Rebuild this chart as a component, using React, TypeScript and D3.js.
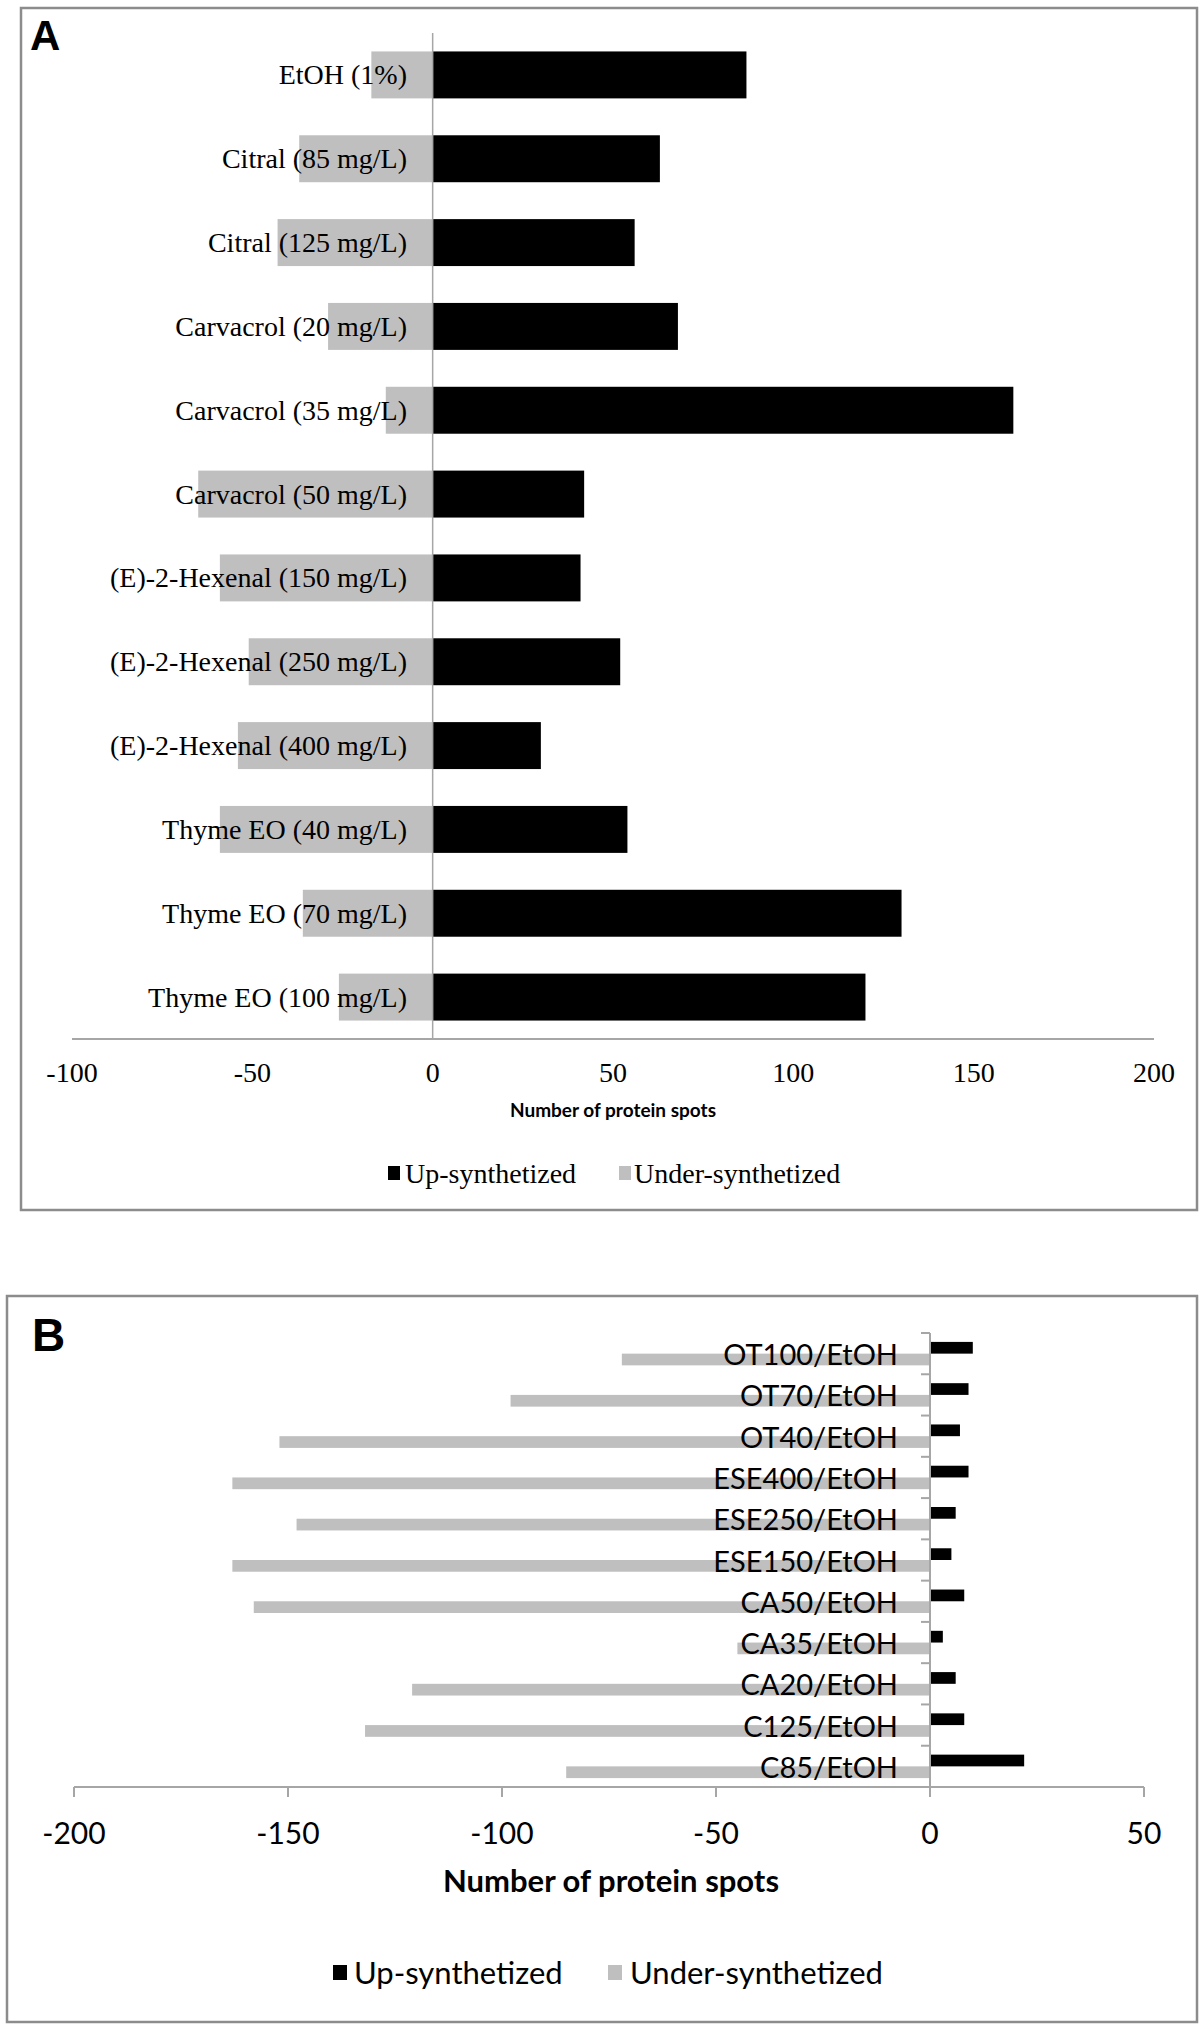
import React from "react";
import * as d3 from "d3";

const catsA = [
  "EtOH (1%)",
  "Citral (85 mg/L)",
  "Citral (125 mg/L)",
  "Carvacrol (20 mg/L)",
  "Carvacrol (35 mg/L)",
  "Carvacrol (50 mg/L)",
  "(E)-2-Hexenal (150 mg/L)",
  "(E)-2-Hexenal (250 mg/L)",
  "(E)-2-Hexenal (400 mg/L)",
  "Thyme EO (40 mg/L)",
  "Thyme EO (70 mg/L)",
  "Thyme EO (100 mg/L)",
];
const upA = [87, 63, 56, 68, 161, 42, 41, 52, 30, 54, 130, 120];
const underA = [-17, -37, -43, -29, -13, -65, -59, -51, -54, -59, -36, -26];
const ticksA = [-100, -50, 0, 50, 100, 150, 200];

const catsB = [
  "OT100/EtOH",
  "OT70/EtOH",
  "OT40/EtOH",
  "ESE400/EtOH",
  "ESE250/EtOH",
  "ESE150/EtOH",
  "CA50/EtOH",
  "CA35/EtOH",
  "CA20/EtOH",
  "C125/EtOH",
  "C85/EtOH",
];
const upB = [10, 9, 7, 9, 6, 5, 8, 3, 6, 8, 22];
const underB = [-72, -98, -152, -163, -148, -163, -158, -45, -121, -132, -85];
const ticksB = [-200, -150, -100, -50, 0, 50];

const seriesNames = ["Up-synthetized", "Under-synthetized"];
const BLACK = "#000000";
const GRAY = "#bfbfbf";
const AXIS = "#a6a6a6";

function PanelA() {
  const x = d3.scaleLinear().domain([-100, 200]).range([72, 1154]);
  const y = d3.scaleBand<string>().domain(catsA).range([33, 1039]).paddingInner(0.44).paddingOuter(0.22);
  const serif = "'Liberation Serif', 'Times New Roman', serif";
  return (
    <g>
      <rect x={21} y={8} width={1176} height={1202} fill="#fff" stroke="#8c8c8c" strokeWidth={2.5} />
      <text x={30} y={50} fontFamily="'Liberation Sans', Arial, sans-serif" fontWeight="bold" fontSize={42}>A</text>
      {catsA.map((c, i) => (
        <g key={c}>
          <rect x={x(underA[i])} y={y(c)} width={x(0) - x(underA[i])} height={y.bandwidth()} fill={GRAY} />
          <rect x={x(0)} y={y(c)} width={x(upA[i]) - x(0)} height={y.bandwidth()} fill={BLACK} />
        </g>
      ))}
      <line x1={x(0)} x2={x(0)} y1={33} y2={1039} stroke={AXIS} strokeWidth={1.5} />
      <line x1={x(-100)} x2={x(200)} y1={1039} y2={1039} stroke={AXIS} strokeWidth={2} />
      {catsA.map((c) => (
        <text key={c} x={407} y={y(c)! + y.bandwidth() / 2} textAnchor="end" dominantBaseline="central"
          fontFamily={serif} fontSize={28} fill="#000">{c}</text>
      ))}
      {ticksA.map((t) => (
        <text key={t} x={x(t)} y={1072} textAnchor="middle" dominantBaseline="central" fontFamily={serif} fontSize={28}>{t}</text>
      ))}
      <text x={613} y={1109} textAnchor="middle" dominantBaseline="central" fontFamily="Lato, sans-serif" fontWeight="bold" fontSize={19}>Number of protein spots</text>
      <rect x={388} y={1166} width={12} height={14} fill={BLACK} />
      <text x={405} y={1173} dominantBaseline="central" fontFamily={serif} fontSize={28}>{seriesNames[0]}</text>
      <rect x={619} y={1166} width={12} height={14} fill={GRAY} />
      <text x={634} y={1173} dominantBaseline="central" fontFamily={serif} fontSize={28}>{seriesNames[1]}</text>
    </g>
  );
}

function PanelB() {
  const x = d3.scaleLinear().domain([-200, 50]).range([74, 1144]);
  const y = d3.scaleBand<string>().domain(catsB).range([1333, 1787]);
  const inner = d3.scaleBand<string>().domain(["up", "under"]).range([0, y.bandwidth()]).paddingOuter(0.76).paddingInner(0);
  const sans = "Lato, 'Open Sans', sans-serif";
  const axisY = 1787;
  const boundaries = d3.range(catsB.length).map((i) => y(catsB[i])!);
  return (
    <g>
      <rect x={7} y={1296} width={1190} height={726} fill="#fff" stroke="#8c8c8c" strokeWidth={2.5} />
      <text x={32} y={1351} fontFamily="'Liberation Sans', Arial, sans-serif" fontWeight="bold" fontSize={46}>B</text>
      {catsB.map((c, i) => (
        <g key={c}>
          <rect x={x(0)} y={y(c)! + inner("up")!} width={x(upB[i]) - x(0)} height={inner.bandwidth()} fill={BLACK} />
          <rect x={x(underB[i])} y={y(c)! + inner("under")!} width={x(0) - x(underB[i])} height={inner.bandwidth()} fill={GRAY} />
        </g>
      ))}
      <line x1={x(0)} x2={x(0)} y1={1333} y2={axisY + 10} stroke={AXIS} strokeWidth={2} />
      {boundaries.map((b, i) => (
        <line key={i} x1={x(0) - 9} x2={x(0)} y1={b} y2={b} stroke={AXIS} strokeWidth={2} />
      ))}
      <line x1={x(-200)} x2={x(50)} y1={axisY} y2={axisY} stroke={AXIS} strokeWidth={2} />
      {ticksB.map((t) => (
        <line key={t} x1={x(t)} x2={x(t)} y1={axisY} y2={axisY + 10} stroke={AXIS} strokeWidth={2} />
      ))}
      {catsB.map((c) => (
        <text key={c} x={898} y={y(c)! + y.bandwidth() / 2} textAnchor="end" dominantBaseline="central"
          fontFamily={sans} fontSize={29} fill="#000">{c}</text>
      ))}
      {ticksB.map((t) => (
        <text key={t} x={x(t)} y={1832} textAnchor="middle" dominantBaseline="central" fontFamily={sans} fontSize={30}>{t}</text>
      ))}
      <text x={611} y={1880} textAnchor="middle" dominantBaseline="central" fontFamily={sans} fontWeight="bold" fontSize={31}>Number of protein spots</text>
      <rect x={333} y={1965} width={14} height={15} fill={BLACK} />
      <text x={354} y={1972} dominantBaseline="central" fontFamily={sans} fontSize={31}>{seriesNames[0]}</text>
      <rect x={608} y={1965} width={14} height={15} fill={GRAY} />
      <text x={630} y={1972} dominantBaseline="central" fontFamily={sans} fontSize={31}>{seriesNames[1]}</text>
    </g>
  );
}

export default function App() {
  return (
    <svg width={1204} height={2029} style={{ position: "absolute", left: 0, top: 0, background: "#fff" }}>
      <rect x={0} y={0} width={1204} height={2029} fill="#fff" />
      <PanelA />
      <PanelB />
    </svg>
  );
}
